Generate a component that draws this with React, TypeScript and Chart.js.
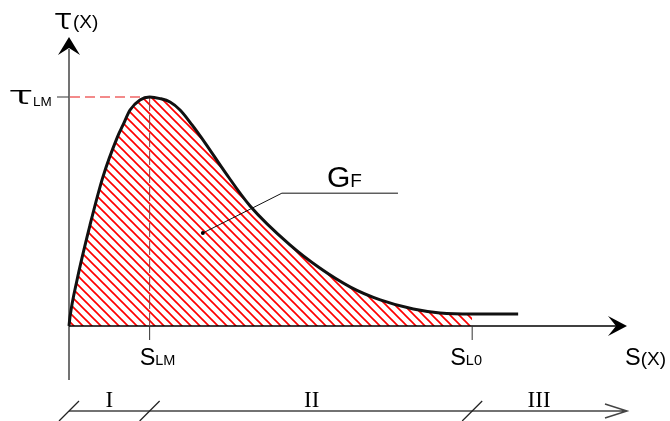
import { useEffect, useRef } from "react";
import { Chart, registerables } from "chart.js";

Chart.register(...registerables);

// Bond-slip law: slip s (in units of s_LM) against bond stress τ (in units of τ_LM)
const slip = [0, 0.012, 0.099, 0.26, 0.42, 0.6, 0.67, 0.757, 0.88, 1.0, 1.13, 1.253, 1.377, 1.526, 1.687, 1.935, 2.246, 2.74, 3.11, 3.49, 3.86, 4.27, 4.6, 5.0, 5.57];
const tau = [0, 0.039, 0.2, 0.44, 0.65, 0.825, 0.878, 0.943, 0.987, 1.0, 0.993, 0.978, 0.943, 0.878, 0.8, 0.672, 0.524, 0.354, 0.253, 0.17, 0.114, 0.074, 0.057, 0.052, 0.052];

const S_LM = 1;
const S_L0 = 5;
const TAU_LM = 1;
const S_AXIS_END = 6.92;
const TAU_AXIS_END = 1.262;

// Zones along the slip axis
const zoneBounds = [0, S_LM, S_L0];
const zoneLabels = ["I", "II", "III"];
const zoneLabelAt = [0.5, 3.01, 5.83];

// Fracture energy annotation (area under the curve up to s_L0)
const gfDot = [1.66, 0.406];
const gfElbow = [2.64, 0.58];
const gfEnd = 4.08;

const SANS = "'Liberation Sans', Arial, sans-serif";
const SERIF = "'Liberation Serif', 'Times New Roman', serif";
const GREEK = "Inter, 'Liberation Sans', sans-serif";

type Part = { text: string; size: number };

function drawParts(ctx: CanvasRenderingContext2D, parts: Part[], x: number, baseline: number) {
  ctx.textAlign = "left";
  ctx.textBaseline = "alphabetic";
  let cx = x;
  for (const p of parts) {
    ctx.font = `${p.size}px ${SANS}`;
    ctx.fillText(p.text, cx, baseline);
    cx += ctx.measureText(p.text).width;
  }
}

// Draws a light glyph sized to an ink height and widened horizontally to an ink width
function drawWideGlyph(ctx: CanvasRenderingContext2D, ch: string, left: number, bottom: number, w: number, h: number) {
  ctx.save();
  ctx.font = `300 40px ${GREEK}`;
  const m0 = ctx.measureText(ch);
  const size = (40 * h) / (m0.actualBoundingBoxAscent + m0.actualBoundingBoxDescent);
  ctx.font = `300 ${size}px ${GREEK}`;
  ctx.textAlign = "left";
  ctx.textBaseline = "alphabetic";
  const m = ctx.measureText(ch);
  const inkW = m.actualBoundingBoxLeft + m.actualBoundingBoxRight;
  const sx = w / inkW;
  ctx.translate(left + m.actualBoundingBoxLeft * sx, bottom - m.actualBoundingBoxDescent);
  ctx.scale(sx, 1);
  ctx.fillText(ch, 0, 0);
  ctx.restore();
}

function makeHatch(): CanvasPattern | string {
  const size = 9;
  const c = document.createElement("canvas");
  c.width = size;
  c.height = size;
  const g = c.getContext("2d");
  if (!g) return "rgba(255,0,0,0.3)";
  g.strokeStyle = "#ff0000";
  g.lineWidth = 1.7;
  for (let k = -1; k <= 1; k++) {
    g.beginPath();
    g.moveTo(k * size - 1, -1);
    g.lineTo(k * size + size + 1, size + 1);
    g.stroke();
  }
  const pat = g.createPattern(c, "repeat");
  return pat || "rgba(255,0,0,0.3)";
}

const diagramPlugin = {
  id: "bondSlipDiagram",
  afterDatasetDraw(chart: any, args: any) {
    if (args.index !== 1) return;
    const ctx: CanvasRenderingContext2D = chart.ctx;
    const xs = chart.scales.x;
    const ys = chart.scales.y;
    const X = (v: number) => xs.getPixelForValue(v);
    const Y = (v: number) => ys.getPixelForValue(v);
    const x0 = X(0);
    const y0 = Y(0);
    const yTop = Y(TAU_AXIS_END);
    const xEnd = X(S_AXIS_END);
    ctx.save();

    // vertical axis
    ctx.strokeStyle = "#444";
    ctx.lineWidth = 1.5;
    ctx.beginPath();
    ctx.moveTo(x0, y0 + 54);
    ctx.lineTo(x0, yTop + 12);
    ctx.stroke();
    ctx.fillStyle = "#000";
    ctx.beginPath();
    ctx.moveTo(x0, yTop);
    ctx.lineTo(x0 + 11, yTop + 18);
    ctx.lineTo(x0, yTop + 11);
    ctx.lineTo(x0 - 11, yTop + 18);
    ctx.closePath();
    ctx.fill();

    // horizontal axis
    ctx.strokeStyle = "#000";
    ctx.lineWidth = 1.5;
    ctx.beginPath();
    ctx.moveTo(x0, y0);
    ctx.lineTo(xEnd - 10, y0);
    ctx.stroke();
    ctx.beginPath();
    ctx.moveTo(xEnd, y0);
    ctx.lineTo(xEnd - 19, y0 - 10);
    ctx.lineTo(xEnd - 11, y0);
    ctx.lineTo(xEnd - 19, y0 + 10);
    ctx.closePath();
    ctx.fill();

    // τ_LM tick and dashed guide to the peak
    const yPeak = Y(TAU_LM);
    const xPeak = X(S_LM);
    ctx.strokeStyle = "#555";
    ctx.lineWidth = 1.2;
    ctx.beginPath();
    ctx.moveTo(x0 - 12, yPeak);
    ctx.lineTo(x0, yPeak);
    ctx.stroke();
    ctx.strokeStyle = "#f06464";
    ctx.lineWidth = 1.5;
    ctx.setLineDash([10, 5]);
    ctx.beginPath();
    ctx.moveTo(x0 + 1, yPeak);
    ctx.lineTo(xPeak, yPeak);
    ctx.stroke();

    // s_LM dashed drop line
    ctx.strokeStyle = "#8a3a3a";
    ctx.lineWidth = 1;
    ctx.setLineDash([14, 4]);
    ctx.beginPath();
    ctx.moveTo(xPeak, yPeak);
    ctx.lineTo(xPeak, y0);
    ctx.stroke();
    ctx.setLineDash([]);

    // ticks below the slip axis
    ctx.strokeStyle = "#333";
    ctx.lineWidth = 1;
    for (const s of [S_LM, S_L0]) {
      ctx.beginPath();
      ctx.moveTo(X(s), y0);
      ctx.lineTo(X(s), y0 + 14);
      ctx.stroke();
    }

    // zone dimension line
    const yd = y0 + 85;
    ctx.strokeStyle = "#444";
    ctx.lineWidth = 1.5;
    ctx.beginPath();
    ctx.moveTo(x0, yd);
    ctx.lineTo(xEnd, yd);
    ctx.moveTo(xEnd - 22, yd - 7);
    ctx.lineTo(xEnd, yd);
    ctx.lineTo(xEnd - 22, yd + 7);
    ctx.stroke();
    ctx.strokeStyle = "#222";
    ctx.lineWidth = 1.3;
    for (const b of zoneBounds) {
      ctx.beginPath();
      ctx.moveTo(X(b) - 10, yd + 10);
      ctx.lineTo(X(b) + 10, yd - 10);
      ctx.stroke();
    }
    ctx.restore();
  },
  afterDatasetsDraw(chart: any) {
    const ctx: CanvasRenderingContext2D = chart.ctx;
    const xs = chart.scales.x;
    const ys = chart.scales.y;
    const X = (v: number) => xs.getPixelForValue(v);
    const Y = (v: number) => ys.getPixelForValue(v);
    const x0 = X(0);
    const y0 = Y(0);
    ctx.save();
    ctx.fillStyle = "#000";

    // vertical axis title τ(X)
    const yTop = Y(TAU_AXIS_END);
    drawWideGlyph(ctx, "τ", x0 - 14, yTop - 7, 17, 16);
    drawParts(ctx, [{ text: "(X)", size: 19 }], x0 + 4, yTop - 9);

    // τ_LM label
    const yPeak = Y(TAU_LM);
    drawWideGlyph(ctx, "τ", x0 - 59, yPeak + 8, 22, 14);
    drawParts(ctx, [{ text: "LM", size: 13.5 }], x0 - 36, yPeak + 9);

    // slip labels
    drawParts(ctx, [{ text: "S", size: 23.5 }, { text: "LM", size: 14.5 }], X(S_LM) - 10, y0 + 39);
    drawParts(ctx, [{ text: "S", size: 23.5 }, { text: "L0", size: 14.5 }], X(S_L0) - 22, y0 + 39);
    drawParts(ctx, [{ text: "S", size: 23.5 }, { text: "(X)", size: 19 }], X(S_AXIS_END) - 2, y0 + 39);

    // zone numerals
    ctx.font = `23px ${SERIF}`;
    ctx.textAlign = "center";
    ctx.textBaseline = "alphabetic";
    zoneLabels.forEach((lab, i) => {
      ctx.fillText(lab, X(zoneLabelAt[i]), y0 + 81);
    });

    // G_F leader
    const dx = X(gfDot[0]);
    const dy = Y(gfDot[1]);
    const ex = X(gfElbow[0]);
    const ey = Y(gfElbow[1]);
    ctx.strokeStyle = "#111";
    ctx.lineWidth = 1;
    ctx.beginPath();
    ctx.moveTo(dx, dy);
    ctx.lineTo(ex, ey);
    ctx.lineTo(X(gfEnd), ey);
    ctx.stroke();
    ctx.beginPath();
    ctx.arc(dx, dy, 2, 0, Math.PI * 2);
    ctx.fill();
    drawParts(ctx, [{ text: "G", size: 30 }, { text: "F", size: 19 }], ex + 45, ey - 6);
    ctx.restore();
  },
};

export default function App() {
  const canvasRef = useRef<HTMLCanvasElement | null>(null);

  useEffect(() => {
    const canvas = canvasRef.current;
    if (!canvas) return;
    const curve = slip.map((s, i) => ({ x: s, y: tau[i] }));
    const area = curve.filter((p) => p.x <= S_L0);
    const chart = new Chart(canvas, {
      type: "line",
      data: {
        datasets: [
          {
            label: "τ(s)",
            data: curve,
            borderColor: "#111",
            borderWidth: 3,
            pointRadius: 0,
            fill: false,
            cubicInterpolationMode: "monotone",
            order: 0,
            clip: false,
          },
          {
            label: "G_F",
            data: area,
            borderWidth: 0,
            borderColor: "rgba(0,0,0,0)",
            backgroundColor: makeHatch() as any,
            pointRadius: 0,
            fill: "origin",
            cubicInterpolationMode: "monotone",
            order: 1,
            clip: false,
          },
        ],
      },
      options: {
        animation: false,
        responsive: true,
        maintainAspectRatio: false,
        layout: { padding: { left: 69, right: 43, top: 37, bottom: 95 } },
        scales: {
          x: { type: "linear", min: 0, max: S_AXIS_END, display: false },
          y: { type: "linear", min: 0, max: TAU_AXIS_END, display: false },
        },
        plugins: {
          legend: { display: false },
          tooltip: { enabled: false },
        },
      },
      plugins: [diagramPlugin],
    });
    return () => chart.destroy();
  }, []);

  return (
    <div style={{ position: "fixed", left: 0, top: 0, width: 670, height: 421, background: "#fff" }}>
      <canvas ref={canvasRef} />
    </div>
  );
}
